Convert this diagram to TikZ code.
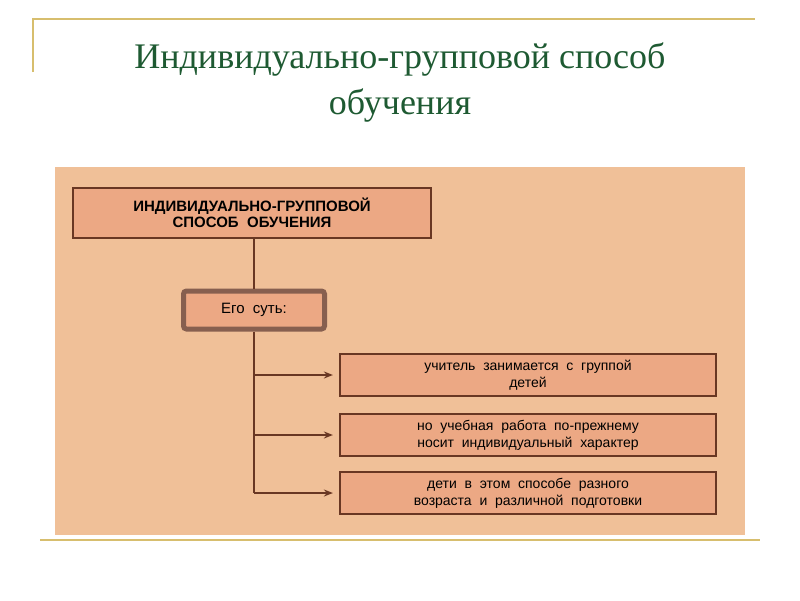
\documentclass[tikz,border=0pt]{standalone}
\usepackage{fontspec}
\setmainfont{Liberation Serif}
\newfontfamily\boxfont{Liberation Sans}
\usetikzlibrary{arrows.meta,positioning}
\definecolor{panelbg}{RGB}{240,192,152}
\definecolor{boxbg}{RGB}{236,168,132}
\definecolor{boxline}{RGB}{105,55,35}
\definecolor{titlegreen}{RGB}{30,90,50}
\definecolor{rulegold}{RGB}{215,190,110}
\tikzset{
    headbox/.style={rectangle, draw=boxline, line width=2.2pt, fill=boxbg, font=\boxfont\bfseries\fontsize{15}{16}\selectfont, align=center, minimum width=358pt, minimum height=50pt, inner sep=0pt},
    essbox/.style={rectangle, rounded corners=3pt, draw=boxline!80, line width=5pt, fill=boxbg, font=\boxfont\fontsize{15}{16}\selectfont, minimum width=141pt, minimum height=38pt},
    itembox/.style={rectangle, draw=boxline, line width=2.2pt, fill=boxbg, font=\boxfont\fontsize{14}{17}\selectfont, align=center, minimum width=376pt, minimum height=42pt, inner sep=0pt},
    link/.style={draw=boxline, line width=1.6pt}
}
\begin{document}
\begin{tikzpicture}[x=1pt, y=-1pt, >={Stealth[length=9pt,width=7pt]}]
\useasboundingbox[fill=white] (0,0) rectangle (800,600);
% frame lines
\draw[rulegold, line width=1.5pt] (33,72) -- (33,19) -- (755,19);
\draw[rulegold, line width=1.5pt] (40,540) -- (760,540);
% title
\node[titlegreen, font=\fontsize{36}{46}\selectfont, align=center] (title) at (400,82) {Индивидуально-групповой способ\\обучения};
% panel
\fill[panelbg] (55,167) rectangle (745,535);
% boxes
\node[headbox] (head) at (252,213) {ИНДИВИДУАЛЬНО-ГРУППОВОЙ\\СПОСОБ\ \ ОБУЧЕНИЯ};
\node[essbox] (ess) at (254,310) {Его\ \ суть:};
\node[itembox] (i1) at (528,375) {учитель\ \ занимается\ \ с\ \ группой\\детей};
\node[itembox] (i2) at (528,435) {но\ \ учебная\ \ работа\ \ по-прежнему\\носит\ \ индивидуальный\ \ характер};
\node[itembox] (i3) at (528,493) {дети\ \ в\ \ этом\ \ способе\ \ разного\\возраста\ \ и\ \ различной\ \ подготовки};
% connectors
\draw[link] (head.south -| ess) -- (ess.north);
\draw[link] (ess.south) -- (i3.west -| ess);
\foreach \k in {1,2,3}
  \draw[link,->] (i\k.west -| ess) -- ([xshift=-6pt]i\k.west);
\end{tikzpicture}
\end{document}
